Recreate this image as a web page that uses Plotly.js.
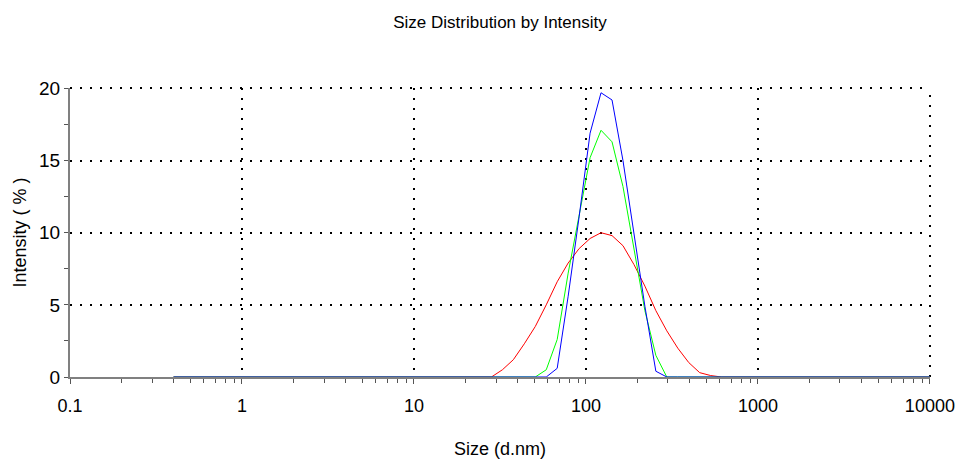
<!DOCTYPE html>
<html>
<head>
<meta charset="utf-8">
<script src="https://cdn.plot.ly/plotly-3.0.1.min.js"></script>
<style>
  html, body { margin: 0; padding: 0; background: #ffffff; }
  #chart { width: 956px; height: 459px; }
</style>
</head>
<body>
<div id="chart"></div>
<script>
// Size classes (d.nm), log-spaced bins from 0.4 to 10000
const sizes = [
  0.3999, 0.4632, 0.5365, 0.6213, 0.7195, 0.8332, 0.9649, 1.117, 1.294, 1.499,
  1.736, 2.010, 2.328, 2.696, 3.122, 3.615, 4.187, 4.849, 5.615, 6.503,
  7.531, 8.721, 10.10, 11.70, 13.54, 15.69, 18.17, 21.04, 24.36, 28.21,
  32.67, 37.84, 43.82, 50.75, 58.77, 68.06, 78.82, 91.28, 105.7, 122.4,
  141.8, 164.2, 190.1, 220.2, 255.0, 295.3, 342.0, 396.1, 458.7, 531.2,
  615.1, 712.4, 825.0, 955.4, 1106, 1281, 1484, 1718, 1990, 2305,
  2669, 3091, 3580, 4145, 4801, 5560, 6439, 7456, 8635, 10000
];

// Intensity (%) per size class for the three records
const intensityRed = [
  0, 0, 0, 0, 0, 0, 0, 0, 0, 0,
  0, 0, 0, 0, 0, 0, 0, 0, 0, 0,
  0, 0, 0, 0, 0, 0, 0, 0, 0, 0,
  0.5, 1.2, 2.3, 3.5, 5.0, 6.6, 7.9, 8.9, 9.6, 10.0,
  9.8, 9.1, 7.8, 6.3, 4.6, 3.2, 2.0, 1.0, 0.3, 0.1,
  0, 0, 0, 0, 0, 0, 0, 0, 0, 0,
  0, 0, 0, 0, 0, 0, 0, 0, 0, 0
];
const intensityGreen = [
  0, 0, 0, 0, 0, 0, 0, 0, 0, 0,
  0, 0, 0, 0, 0, 0, 0, 0, 0, 0,
  0, 0, 0, 0, 0, 0, 0, 0, 0, 0,
  0, 0, 0, 0, 0.5, 2.6, 7.2, 11.3, 15.2, 17.1,
  16.3, 13.2, 9.0, 4.6, 1.5, 0, 0, 0, 0, 0,
  0, 0, 0, 0, 0, 0, 0, 0, 0, 0,
  0, 0, 0, 0, 0, 0, 0, 0, 0, 0
];
const intensityBlue = [
  0, 0, 0, 0, 0, 0, 0, 0, 0, 0,
  0, 0, 0, 0, 0, 0, 0, 0, 0, 0,
  0, 0, 0, 0, 0, 0, 0, 0, 0, 0,
  0, 0, 0, 0, 0, 0.6, 5.6, 11.1, 16.9, 19.7,
  19.2, 15.0, 10.0, 4.9, 0.4, 0, 0, 0, 0, 0,
  0, 0, 0, 0, 0, 0, 0, 0, 0, 0,
  0, 0, 0, 0, 0, 0, 0, 0, 0, 0
];

const xTickVals = [0.1, 1, 10, 100, 1000, 10000];
const xTickText = ['0.1', '1', '10', '100', '1000', '10000'];
const yTickVals = [0, 5, 10, 15, 20];
const yTickText = ['0', '5', '10', '15', '20'];

const labelFont = { family: '"Liberation Sans", Arial, sans-serif', color: '#000000' };
const gridDash = '2px,8px';

function series(y, color) {
  return {
    x: sizes, y: y, type: 'scatter', mode: 'lines',
    line: { color: color, width: 1 }, hoverinfo: 'x+y', showlegend: false
  };
}

const data = [
  series(intensityRed, '#ff0000'),
  series(intensityGreen, '#00ff00'),
  series(intensityBlue, '#0000ff')
];

// Dotted frame lines along the top and right edges of the plot area
const frameShapes = [
  { type: 'line', xref: 'paper', yref: 'paper', x0: 0, x1: 1, y0: 1, y1: 1,
    line: { color: '#000000', width: 2, dash: gridDash }, layer: 'below' },
  { type: 'line', xref: 'paper', yref: 'paper', x0: 1, x1: 1, y0: 0, y1: 1,
    line: { color: '#000000', width: 2, dash: gridDash }, layer: 'below' }
];

const layout = {
  width: 956, height: 459,
  margin: { l: 70, r: 26, t: 88, b: 82 },
  paper_bgcolor: '#ffffff', plot_bgcolor: '#ffffff',
  title: {
    text: 'Size Distribution by Intensity',
    x: 0.5, xref: 'paper', y: 0.953, yanchor: 'middle',
    font: Object.assign({ size: 17 }, labelFont)
  },
  shapes: frameShapes,
  xaxis: {
    type: 'log', range: [-1, 4.0006],
    tickmode: 'array', tickvals: xTickVals, ticktext: xTickText,
    ticks: 'outside', ticklen: 5, tickcolor: '#555555', tickwidth: 1,
    ticklabelstandoff: 6,
    minor: { dtick: 'D1', ticks: 'outside', ticklen: 4, tickcolor: '#555555', tickwidth: 1, showgrid: false },
    showline: true, linecolor: '#808080', linewidth: 2,
    showgrid: true, gridcolor: '#000000', gridwidth: 2, griddash: gridDash,
    zeroline: false,
    tickfont: Object.assign({ size: 18 }, labelFont),
    title: { text: 'Size (d.nm)', font: Object.assign({ size: 18 }, labelFont), standoff: 30 }
  },
  yaxis: {
    range: [0, 20.03],
    tickmode: 'array', tickvals: yTickVals, ticktext: yTickText,
    ticks: 'outside', ticklen: 4, tickcolor: '#555555', tickwidth: 1,
    minor: { dtick: 2.5, tick0: 0, ticks: 'outside', ticklen: 4, tickcolor: '#555555', tickwidth: 1, showgrid: false },
    showline: true, linecolor: '#808080', linewidth: 2,
    showgrid: true, gridcolor: '#000000', gridwidth: 2, griddash: gridDash,
    zeroline: false,
    tickfont: Object.assign({ size: 19 }, labelFont),
    title: { text: 'Intensity ( % )', font: Object.assign({ size: 18 }, labelFont), standoff: 8 }
  }
};

Plotly.newPlot('chart', data, layout, { displayModeBar: false, staticPlot: true });
</script>
</body>
</html>
